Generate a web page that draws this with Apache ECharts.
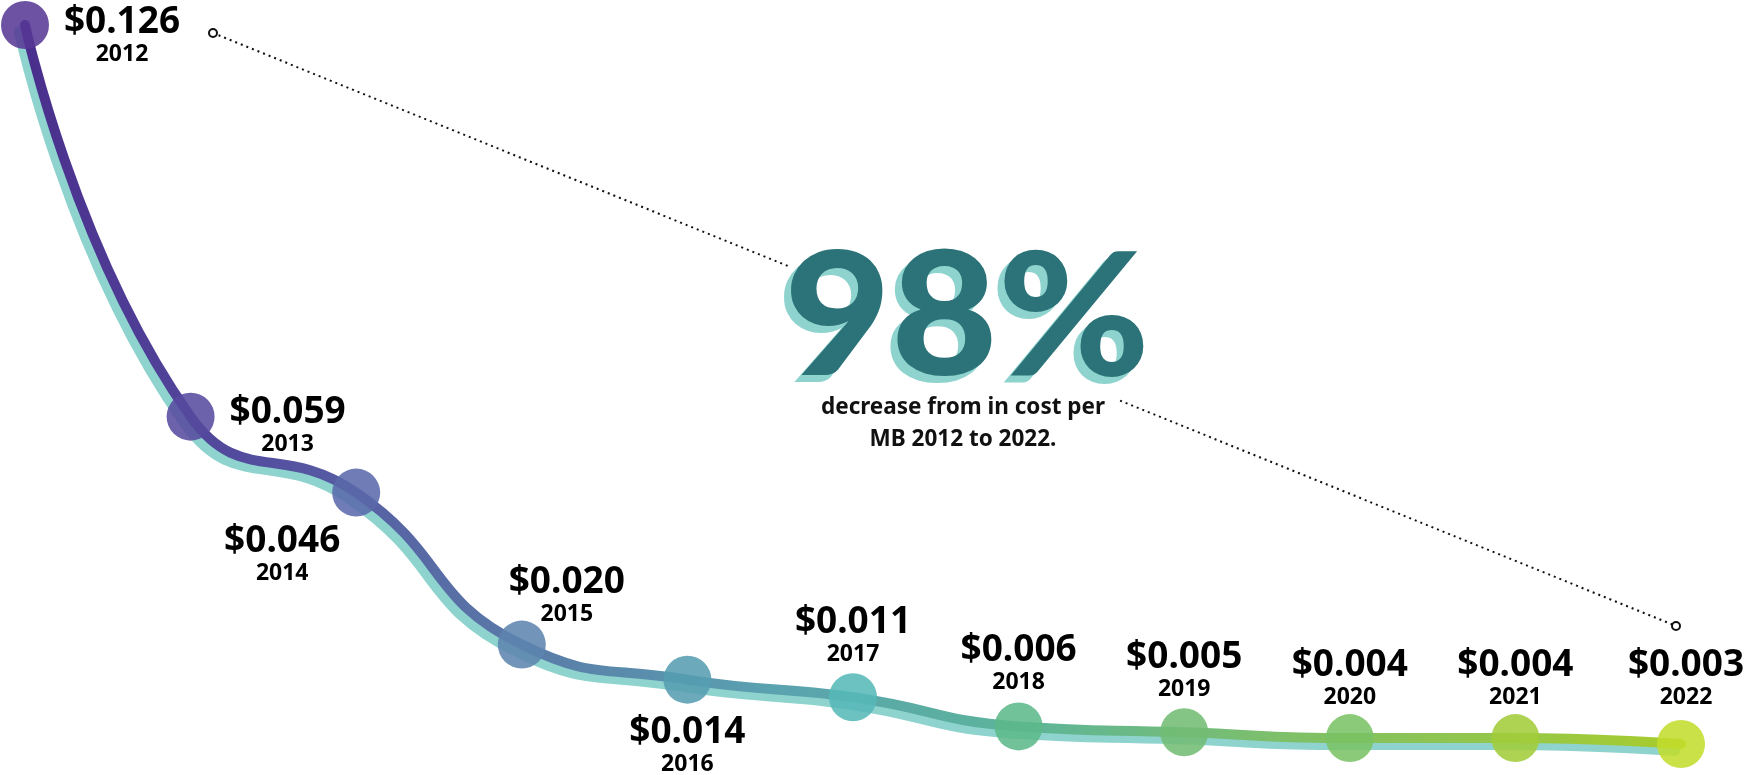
<!DOCTYPE html>
<html>
<head>
<meta charset="utf-8">
<title>Cost per MB 2012-2022</title>
<script src="https://cdn.jsdelivr.net/npm/echarts@6/dist/echarts.min.js"></script>
<style>
  html, body { margin: 0; padding: 0; background: #fff; }
  #main { width: 1748px; height: 775px; }
</style>
</head>
<body>
<div id="main"></div>
<script>
// cost per MB in dollars, one point per year
var years = ['2012', '2013', '2014', '2015', '2016', '2017', '2018', '2019', '2020', '2021', '2022'];
var costs = [0.126, 0.059, 0.046, 0.020, 0.014, 0.011, 0.006, 0.005, 0.004, 0.004, 0.003];
var headline = '98%';
var subline = 'decrease from in cost per\nMB 2012 to 2022.';

// bubble colours, purple -> yellow green
var dotColors = ['#573795', '#56499e', '#5a68aa', '#5d84ae', '#569db1', '#56b8b8',
                 '#5cb98a', '#72bc74', '#7ac264', '#a2cc3a', '#c2dc2c'];
// where each label block sits, relative to its point
var labelOffsets = [[97, 11], [97, 10], [-74, 63], [45, -48], [0, 67], [0, -61],
                    [0, -62], [0, -61], [0, -59], [0, -59], [5, -65]];

function fade(hex, a) {
  var n = parseInt(hex.slice(1), 16);
  return 'rgba(' + (n >> 16) + ',' + ((n >> 8) & 255) + ',' + (n & 255) + ',' + a + ')';
}

var chart = echarts.init(document.getElementById('main'));

var points = costs.map(function (v, i) {
  return {
    value: v,
    itemStyle: { color: fade(dotColors[i], 0.87) },
    label: { offset: labelOffsets[i] }
  };
});

chart.setOption({
  animation: false,
  grid: [
    { left: 25, right: 67, top: 25, bottom: 13.5 },
    // the light teal under-stroke, nudged down and left
    { left: 19, right: 73, top: 32, bottom: 6.5 }
  ],
  xAxis: [
    { type: 'category', data: years, boundaryGap: false, gridIndex: 0, show: false },
    { type: 'category', data: years, boundaryGap: false, gridIndex: 1, show: false }
  ],
  yAxis: [
    { type: 'value', min: 0, max: 0.126, gridIndex: 0, show: false },
    { type: 'value', min: 0, max: 0.126, gridIndex: 1, show: false }
  ],
  series: [
    {
      type: 'line',
      xAxisIndex: 1,
      yAxisIndex: 1,
      data: costs,
      smooth: 0.5,
      symbol: 'none',
      z: 1,
      lineStyle: { color: '#8ed3ce', width: 10, cap: 'round' }
    },
    {
      type: 'line',
      xAxisIndex: 0,
      yAxisIndex: 0,
      data: points,
      smooth: 0.5,
      symbol: 'circle',
      symbolSize: 48,
      z: 2,
      lineStyle: {
        width: 10,
        cap: 'round',
        color: new echarts.graphic.LinearGradient(0, 0, 1, 0, [
          { offset: 0, color: '#4a2d8c' },
          { offset: 0.15, color: '#5450a0' },
          { offset: 0.3, color: '#5a7aa8' },
          { offset: 0.45, color: '#5aa2b0' },
          { offset: 0.6, color: '#5cb49a' },
          { offset: 0.75, color: '#7cbf6c' },
          { offset: 1, color: '#a8cc2c' }
        ])
      },
      label: {
        show: true,
        position: 'inside',
        align: 'center',
        verticalAlign: 'middle',
        formatter: function (p) {
          return '{v|$' + p.value.toFixed(3) + '}\n{y|' + p.name + '}';
        },
        rich: {
          v: { fontFamily: 'Noto Sans', fontWeight: 'bold', fontSize: 37, lineHeight: 36, color: '#000' },
          y: { fontFamily: 'Noto Sans', fontWeight: 'bold', fontSize: 23, lineHeight: 28, color: '#000' }
        }
      }
    }
  ]
});

// dotted connector from the first label to the last, broken around the headline
var a = chart.convertToPixel({ gridIndex: 0 }, [0, costs[0]]);
var b = chart.convertToPixel({ gridIndex: 0 }, [costs.length - 1, costs[costs.length - 1]]);
var p0 = [a[0] + 188, a[1] + 8];
var p1 = [b[0] - 5, b[1] - 118];
function along(t) {
  return [p0[0] + (p1[0] - p0[0]) * t, p0[1] + (p1[1] - p0[1]) * t];
}
var cut1 = along(0.395);
var cut2 = along(0.62);
var dotStyle = { stroke: '#111', lineWidth: 2, lineDash: [2, 4] };

chart.setOption({
  graphic: [
    { type: 'line', shape: { x1: p0[0], y1: p0[1], x2: cut1[0], y2: cut1[1] }, style: dotStyle, z: 5 },
    { type: 'line', shape: { x1: cut2[0], y1: cut2[1], x2: p1[0], y2: p1[1] }, style: dotStyle, z: 5 },
    { type: 'circle', shape: { cx: p0[0], cy: p0[1], r: 4 }, style: { fill: '#fff', stroke: '#111', lineWidth: 2 }, z: 6 },
    { type: 'circle', shape: { cx: p1[0], cy: p1[1], r: 4 }, style: { fill: '#fff', stroke: '#111', lineWidth: 2 }, z: 6 },
    {
      type: 'text', x: 960, y: 327, scaleX: 1.07, z: 7,
      style: { text: headline, fill: '#8ed3ce', font: '900 172px Lato', textAlign: 'center', textVerticalAlign: 'middle' }
    },
    {
      type: 'text', x: 967, y: 320, scaleX: 1.07, z: 8,
      style: { text: headline, fill: '#2b7378', font: '900 172px Lato', textAlign: 'center', textVerticalAlign: 'middle' }
    },
    {
      type: 'text', x: 963, y: 424, z: 8,
      style: {
        text: subline, fill: '#111', font: 'bold 22.5px "Noto Sans"',
        textAlign: 'center', textVerticalAlign: 'middle', lineHeight: 32
      }
    }
  ]
});
</script>
</body>
</html>
